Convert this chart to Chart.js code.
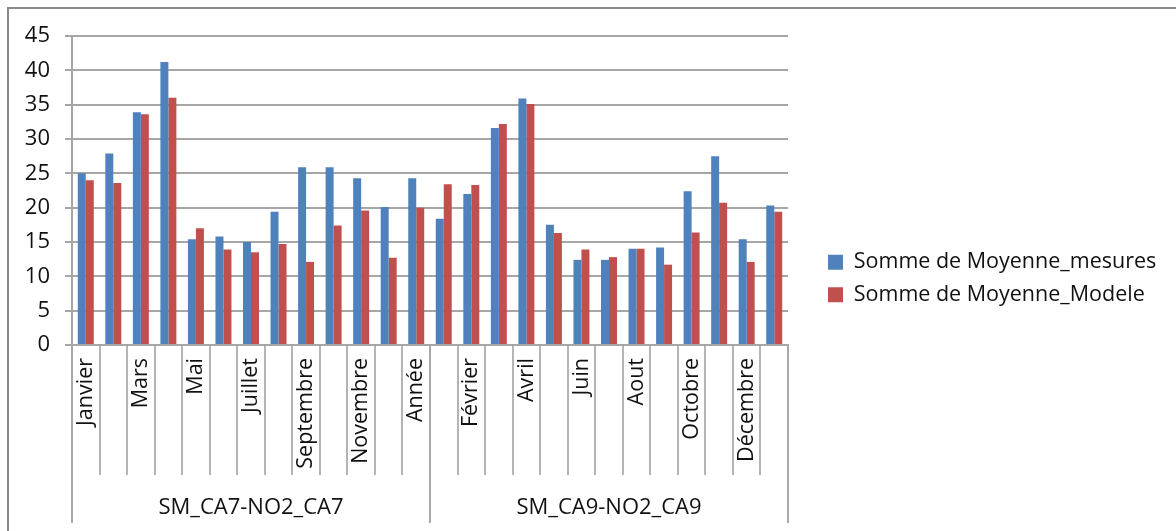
<!DOCTYPE html>
<html>
<head>
<meta charset="utf-8">
<script src="https://cdn.jsdelivr.net/npm/chart.js@4.4.1/dist/chart.umd.min.js"></script>
<style>
  html, body { margin: 0; padding: 0; background: #fff; }
  #frame {
    position: absolute; left: 7px; top: 7px; width: 1169px; height: 524px;
    border-top: 2px solid #8a8a8a; border-left: 2px solid #8a8a8a; box-sizing: border-box;
  }
  #wrap { position: absolute; left: 0; top: 0; width: 1176px; height: 531px; }
</style>
</head>
<body>
<div id="frame"></div>
<div id="wrap"><canvas id="c" width="1176" height="531"></canvas></div>
<script>
// Outer category level (station) and inner level (period)
const groups = ['SM_CA7-NO2_CA7', 'SM_CA9-NO2_CA9'];
const months = ['Janvier', 'Février', 'Mars', 'Avril', 'Mai', 'Juin', 'Juillet',
                'Aout', 'Septembre', 'Octobre', 'Novembre', 'Décembre', 'Année'];

// Measured averages
const mesuresCA7 = [25.0, 27.9, 33.9, 41.2, 15.4, 15.8, 15.0, 19.4, 25.9, 25.9, 24.3, 20.1, 24.3];
const mesuresCA9 = [18.4, 22.0, 31.6, 35.9, 17.5, 12.4, 12.4, 14.0, 14.2, 22.4, 27.5, 15.4, 20.3];
// Modelled averages
const modeleCA7 = [24.0, 23.6, 33.6, 36.0, 17.0, 13.9, 13.5, 14.7, 12.1, 17.4, 19.6, 12.7, 20.0];
const modeleCA9 = [23.4, 23.3, 32.2, 35.1, 16.3, 13.9, 12.8, 14.0, 11.7, 16.4, 20.7, 12.1, 19.4];

const yMin = 0, yMax = 45, yStep = 5;

const categories = groups.flatMap(() => months);
const mesures = mesuresCA7.concat(mesuresCA9);
const modele = modeleCA7.concat(modeleCA9);

const FONT = 'Open Sans';

// Draws the outer (station) level of the category axis below the month labels
const groupAxis = {
  id: 'groupAxis',
  afterDraw(chart) {
    const x = chart.scales.x;
    const ctx = chart.ctx;
    ctx.save();
    ctx.strokeStyle = '#a9a9a9';
    ctx.lineWidth = 2;
    let start = 0;
    const bounds = [0];
    groups.forEach(() => { start += months.length; bounds.push(start); });
    bounds.forEach(b => {
      const px = Math.round(x.getPixelForValue(b - 0.5));
      ctx.beginPath();
      ctx.moveTo(px, x.top);
      ctx.lineTo(px, 523);
      ctx.stroke();
    });
    ctx.fillStyle = '#111';
    ctx.font = '22px "' + FONT + '"';
    ctx.textAlign = 'center';
    ctx.textBaseline = 'middle';
    groups.forEach((g, gi) => {
      const mid = gi * months.length + (months.length - 1) / 2;
      ctx.fillText(g, x.getPixelForValue(mid), 508);
    });
    ctx.restore();
  }
};

new Chart(document.getElementById('c'), {
  type: 'bar',
  data: {
    labels: categories,
    datasets: [
      { label: 'Somme de Moyenne_mesures', data: mesures, backgroundColor: '#4F81BD',
        categoryPercentage: 0.58, barPercentage: 1.0, borderWidth: 0 },
      { label: 'Somme de Moyenne_Modele', data: modele, backgroundColor: '#C0504D',
        categoryPercentage: 0.58, barPercentage: 1.0, borderWidth: 0 }
    ]
  },
  options: {
    responsive: false,
    animation: false,
    devicePixelRatio: 1,
    layout: { padding: { left: 8, top: 36, right: 14, bottom: 10 } },
    plugins: {
      tooltip: { enabled: false },
      legend: {
        position: 'right',
        align: 'center',
        maxWidth: 345,
        labels: {
          boxWidth: 15, boxHeight: 15, padding: 11, color: '#111',
          font: { family: FONT, size: 21.5 }
        }
      }
    },
    scales: {
      x: {
        grid: { drawOnChartArea: false, drawTicks: true, tickLength: 130, color: '#b4b4b4', lineWidth: 2, offset: true },
        border: { color: '#a6a6a6', width: 2 },
        ticks: {
          autoSkip: false, minRotation: 90, maxRotation: 90, padding: -117, color: '#111',
          font: { family: FONT, size: 21.5 },
          callback: (v, i) => (i % 2 === 0 ? categories[i] : '')
        },
        afterFit: s => { s.height = 176; }
      },
      y: {
        min: yMin, max: yMax,
        ticks: { stepSize: yStep, padding: 15, color: '#111', font: { family: FONT, size: 22 } },
        grid: { color: '#a6a6a6', lineWidth: 2, tickLength: 7 },
        border: { color: '#a6a6a6', width: 2 },
        afterFit: s => { s.width = 64; }
      },
      gap: {
        position: 'right', display: true,
        ticks: { display: false },
        grid: { display: false, drawTicks: false },
        border: { display: false },
        afterFit: s => { s.width = 29; }
      }
    }
  },
  plugins: [groupAxis]
});
</script>
</body>
</html>
